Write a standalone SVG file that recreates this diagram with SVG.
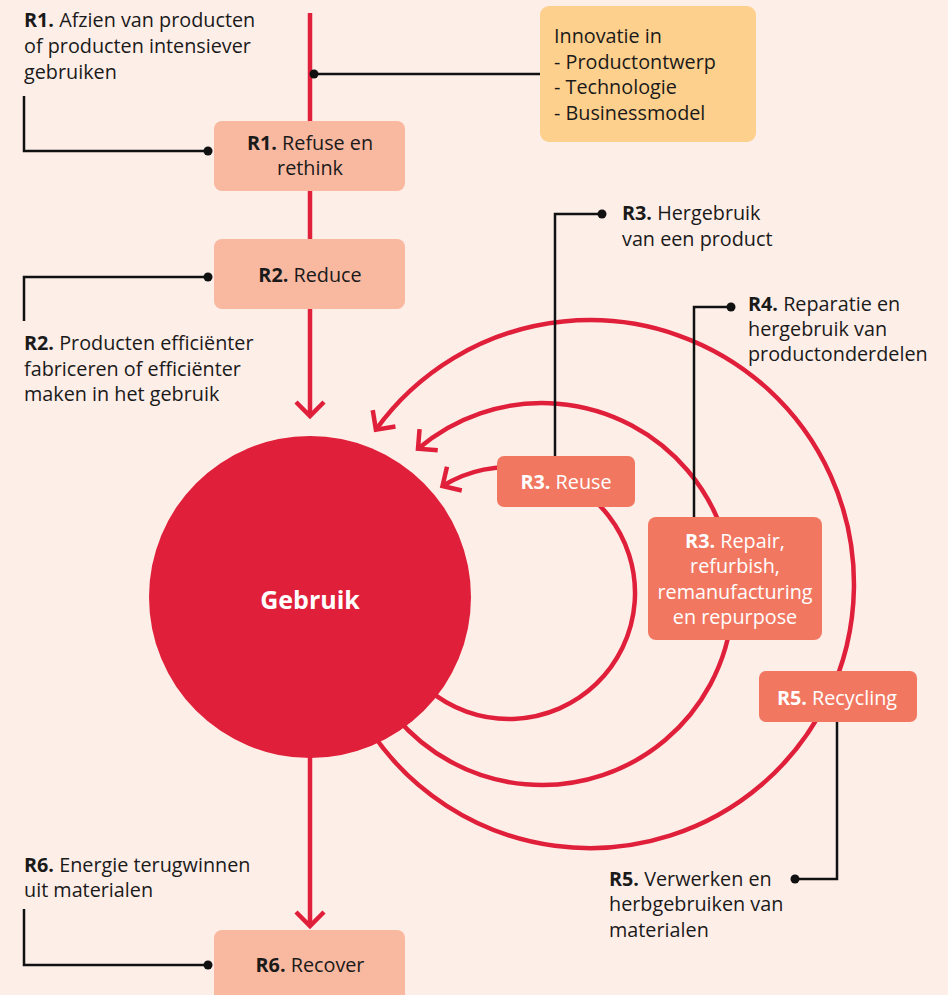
<svg xmlns="http://www.w3.org/2000/svg" width="948" height="995" viewBox="0 0 948 995">
<defs>
<style>
.t{font-family:"Open Sans","Noto Sans","Liberation Sans",sans-serif;font-size:19.8px;fill:#1a1a1a}
.b{font-weight:bold}
.w{fill:#ffffff}
.c{text-anchor:middle}
.red{fill:none;stroke:#E01F3A;stroke-width:4.5}
.blk{fill:none;stroke:#111;stroke-width:2.5}
.dot{fill:#111}
.lt{fill:#F9B8A0}
.dk{fill:#F27761}
</style>
<marker id="arr" markerUnits="userSpaceOnUse" markerWidth="40" markerHeight="40" viewBox="-20 -20 40 40" refX="0" refY="0" orient="auto" overflow="visible">
<path d="M-14,-14 L0,0 L-14,14" fill="none" stroke="#E01F3A" stroke-width="4.5"/>
</marker>
</defs>
<rect x="0" y="0" width="948" height="995" fill="#FEEEE8"/>

<g id="connectors">
<path class="red" d="M428,689.5 A126,126 0 1 0 442.5,486" marker-end="url(#arr)"/>
<path class="red" d="M395.7,716.8 A191,191 0 1 0 418,448.8" marker-end="url(#arr)"/>
<path class="red" d="M371,731.6 A264,264 0 1 0 375.9,429.6" marker-end="url(#arr)"/>
<path class="red" d="M310,13 V416" marker-end="url(#arr)"/>
<path class="red" d="M310,756 V926" marker-end="url(#arr)"/>
<path class="blk" d="M314,74 H540"/><circle class="dot" cx="314" cy="74" r="4.5"/>
<path class="blk" d="M24,96 V151 H208"/><circle class="dot" cx="208" cy="151" r="4.5"/>
<path class="blk" d="M24,321 V277 H208"/><circle class="dot" cx="208" cy="277" r="4.5"/>
<path class="blk" d="M555,456 V214 H602"/><circle class="dot" cx="602" cy="214" r="4.5"/>
<path class="blk" d="M694,517 V307 H731"/><circle class="dot" cx="731" cy="307" r="4.5"/>
<path class="blk" d="M837,722 V879 H795"/><circle class="dot" cx="795" cy="879" r="4.5"/>
<path class="blk" d="M24,909 V965 H208"/><circle class="dot" cx="208" cy="965" r="4.5"/>
</g>

<g id="gebruik">
<circle cx="310" cy="597" r="161" fill="#E01F3A"/>
<text class="t b w c" x="310" y="609" style="font-size:25px">Gebruik</text>
</g>

<g id="innovatie">
<rect x="540" y="6" width="216" height="136" rx="9" fill="#FED08D"/>
<text class="t" x="554" y="43">Innovatie in</text>
<text class="t" x="554" y="69">- Productontwerp</text>
<text class="t" x="554" y="94">- Technologie</text>
<text class="t" x="554" y="120">- Businessmodel</text>
</g>

<g id="r1">
<rect class="lt" x="214" y="121" width="191" height="70" rx="8"/>
<text class="t c" x="310" y="150"><tspan class="b">R1.</tspan> Refuse en</text>
<text class="t c" x="310" y="175">rethink</text>
</g>
<g id="r1-label">
<text class="t" x="24" y="27"><tspan class="b">R1.</tspan> Afzien van producten</text>
<text class="t" x="24" y="53">of producten intensiever</text>
<text class="t" x="24" y="79">gebruiken</text>
</g>

<g id="r2">
<rect class="lt" x="214" y="239" width="191" height="70" rx="8"/>
<text class="t c" x="310" y="282"><tspan class="b">R2.</tspan> Reduce</text>
</g>
<g id="r2-label">
<text class="t" x="24" y="350"><tspan class="b">R2.</tspan> Producten efficiënter</text>
<text class="t" x="24" y="376">fabriceren of efficiënter</text>
<text class="t" x="24" y="401">maken in het gebruik</text>
</g>

<g id="r3-reuse">
<rect class="dk" x="497" y="456" width="138" height="51" rx="7"/>
<text class="t w c" x="566" y="489"><tspan class="b">R3.</tspan> Reuse</text>
</g>
<g id="r3-label">
<text class="t" x="622" y="220"><tspan class="b">R3.</tspan> Hergebruik</text>
<text class="t" x="622" y="246">van een product</text>
</g>

<g id="r3-repair">
<rect class="dk" x="648" y="517" width="174" height="123" rx="8"/>
<text class="t w c" x="735" y="548"><tspan class="b">R3.</tspan> Repair,</text>
<text class="t w c" x="735" y="573">refurbish,</text>
<text class="t w c" x="735" y="599">remanufacturing</text>
<text class="t w c" x="735" y="624">en repurpose</text>
</g>
<g id="r4-label">
<text class="t" x="748" y="311"><tspan class="b">R4.</tspan> Reparatie en</text>
<text class="t" x="748" y="336">hergebruik van</text>
<text class="t" x="748" y="361">productonderdelen</text>
</g>

<g id="r5">
<rect class="dk" x="759" y="671" width="158" height="51" rx="7"/>
<text class="t w c" x="837" y="705"><tspan class="b">R5.</tspan> Recycling</text>
</g>
<g id="r5-label">
<text class="t" x="609" y="886"><tspan class="b">R5.</tspan> Verwerken en</text>
<text class="t" x="609" y="911">herbgebruiken van</text>
<text class="t" x="609" y="937">materialen</text>
</g>

<g id="r6">
<rect class="lt" x="214" y="930" width="191" height="75" rx="8"/>
<text class="t c" x="310" y="972"><tspan class="b">R6.</tspan> Recover</text>
</g>
<g id="r6-label">
<text class="t" x="24" y="872"><tspan class="b">R6.</tspan> Energie terugwinnen</text>
<text class="t" x="24" y="897">uit materialen</text>
</g>
</svg>
